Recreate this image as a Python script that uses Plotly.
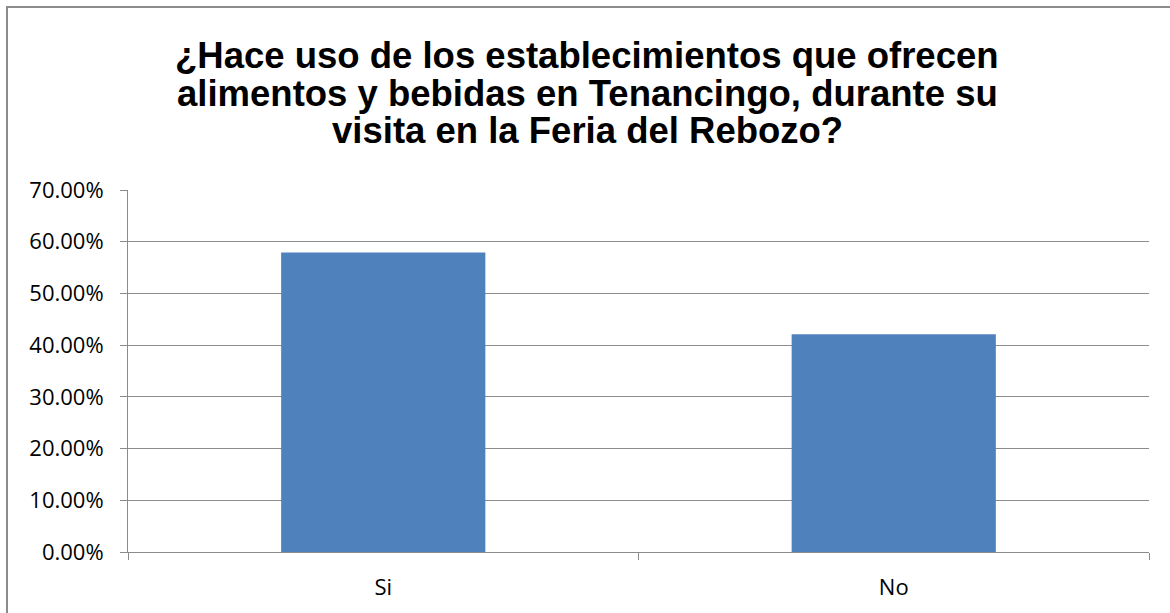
import plotly.graph_objects as go

categories = ["Si", "No"]
values = [0.579, 0.421]
y_ticks = [0, 0.1, 0.2, 0.3, 0.4, 0.5, 0.6, 0.7]
title_lines = [
    "¿Hace uso de los establecimientos que ofrecen",
    "alimentos y bebidas en Tenancingo, durante su",
    "visita en la Feria del Rebozo?",
]

W, H = 1170, 613
ML, MR, MT, MB = 128, 21, 190, 61
plot_h = H - MT - MB

def py(pix):
    return (H - MB - pix) / plot_h

fig = go.Figure()
fig.add_trace(go.Bar(x=categories, y=values, marker=dict(color="#4F81BD", line=dict(width=0)),
                     width=0.4, hoverinfo="x+y"))

grid = "#8C8C8C"
line_centers = [55, 93, 131]
annotations = [
    dict(text=f"<b>{t}</b>", xref="paper", yref="paper", x=(587 - ML) / (W - ML - MR),
         y=py(c), xanchor="center", yanchor="middle", showarrow=False,
         font=dict(family="Liberation Sans, Arial", size=36.5, color="black"))
    for t, c in zip(title_lines, line_centers)
]

fig.update_layout(
    width=W, height=H,
    margin=dict(l=ML, r=MR, t=MT, b=MB),
    paper_bgcolor="white", plot_bgcolor="white",
    showlegend=False,
    font=dict(family="Open Sans", size=22, color="black"),
    annotations=annotations,
    xaxis=dict(showline=True, linecolor=grid, linewidth=1, ticks="outside", ticklen=7,
               tickcolor=grid, tickson="boundaries", showgrid=False, ticklabelstandoff=16),
    yaxis=dict(range=[0, 0.7], tickvals=y_ticks, tickformat=".2%", showline=True,
               linecolor=grid, linewidth=1, ticks="outside", ticklen=7, tickcolor=grid,
               showgrid=True, gridcolor=grid, gridwidth=1, zeroline=False,
               ticklabelstandoff=12),
    shapes=[dict(type="rect", xref="paper", yref="paper",
                 x0=(7 - ML) / (W - ML - MR), x1=(W + 20 - ML) / (W - ML - MR),
                 y0=py(H + 20), y1=py(7),
                 line=dict(color="#8C8C8C", width=2), fillcolor="rgba(0,0,0,0)", layer="below")],
)

fig.write_html("out.html", config={"displayModeBar": False},
               post_script="document.body.style.margin='0';")
